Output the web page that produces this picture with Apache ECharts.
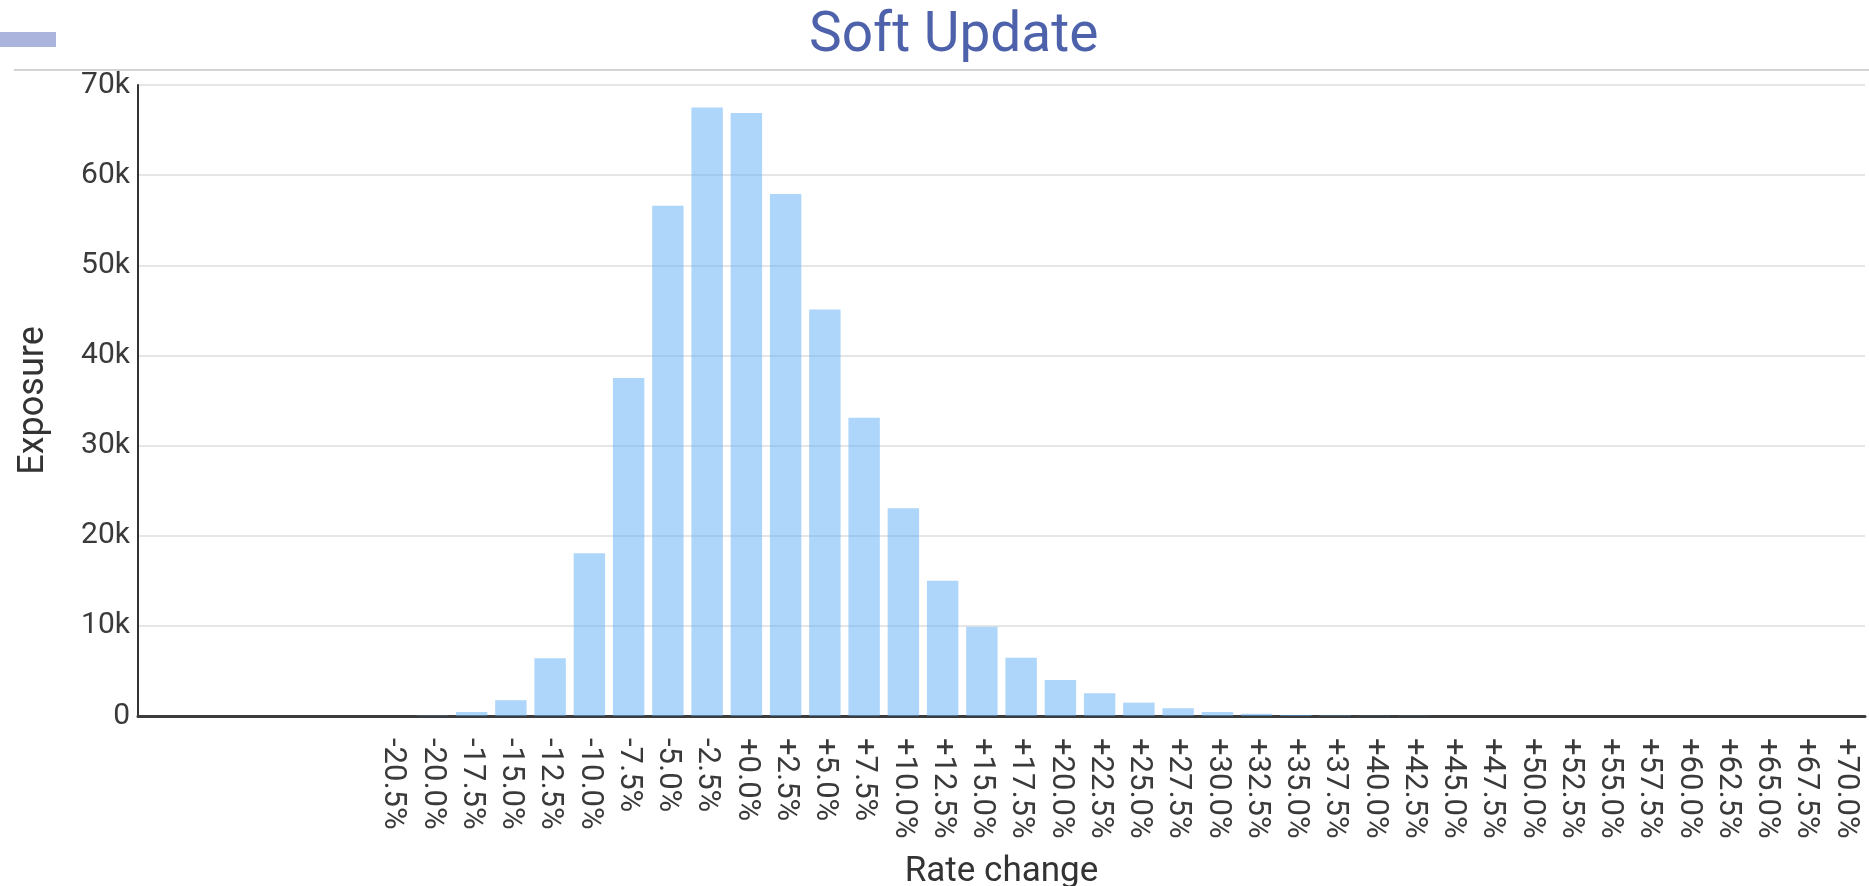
<!DOCTYPE html>
<html>
<head>
<meta charset="utf-8">
<title>Soft Update</title>
<script src="https://cdn.jsdelivr.net/npm/echarts@6/dist/echarts.min.js"></script>
<style>
html,body{margin:0;padding:0;background:#fff;}
#softUpdate{width:1869px;height:886px;}
</style>
</head>
<body>
<div id="softUpdate"></div>
<script>
// leading empty slots on the axis before the first bucket
var blankSlots = ['', '', '', '', '', ''];
var rateLabels = ['-20.5%', '-20.0%', '-17.5%', '-15.0%', '-12.5%', '-10.0%', '-7.5%', '-5.0%', '-2.5%',
    '+0.0%', '+2.5%', '+5.0%', '+7.5%', '+10.0%', '+12.5%', '+15.0%', '+17.5%', '+20.0%', '+22.5%',
    '+25.0%', '+27.5%', '+30.0%', '+32.5%', '+35.0%', '+37.5%', '+40.0%', '+42.5%', '+45.0%', '+47.5%',
    '+50.0%', '+52.5%', '+55.0%', '+57.5%', '+60.0%', '+62.5%', '+65.0%', '+67.5%', '+70.0%'];
var exposure = [0, 60, 450, 1750, 6420, 18050, 37500, 56600, 67500,
    66900, 57900, 45100, 33100, 23060, 15000, 9900, 6450, 4000, 2520,
    1480, 860, 450, 250, 120, 70, 30, 15, 0, 0,
    0, 0, 0, 0, 0, 0, 0, 0, 0];
var yTicks = [0, 10000, 20000, 30000, 40000, 50000, 60000, 70000];

var chartDom = document.getElementById('softUpdate');
var myChart = echarts.init(chartDom);
var option;

var xData = blankSlots.concat(rateLabels);
var yData = blankSlots.map(function () { return null; }).concat(exposure);

option = {
    animation: false,
    textStyle: { fontFamily: 'Roboto' },
    title: {
        text: 'Soft Update',
        left: 804,
        top: 5,
        textStyle: { fontSize: 55, fontWeight: 'normal', color: '#4d62ab', fontFamily: 'Roboto' }
    },
    graphic: [
        { type: 'rect', left: 0, top: 32, shape: { width: 56, height: 15 }, style: { fill: '#aab4dc' } },
        { type: 'line', shape: { x1: 14, y1: 70, x2: 1869, y2: 70 }, style: { stroke: '#c4c4c4', lineWidth: 1.5 } }
    ],
    grid: {
        left: 138,
        right: 4,
        top: 85,
        bottom: 170,
        outerBoundsMode: 'none'
    },
    xAxis: {
        type: 'category',
        data: xData,
        name: 'Rate change',
        nameLocation: 'middle',
        nameGap: 139,
        nameTextStyle: { fontSize: 35, color: '#333' },
        axisTick: { show: false },
        axisLine: { lineStyle: { color: '#3c3c3c', width: 3 } },
        axisLabel: {
            interval: 0,
            rotate: -90,
            margin: 22,
            fontSize: 31,
            color: '#3a3a3a'
        }
    },
    yAxis: {
        type: 'value',
        min: yTicks[0],
        max: yTicks[yTicks.length - 1],
        interval: yTicks[1] - yTicks[0],
        name: 'Exposure',
        nameLocation: 'middle',
        nameGap: 86,
        nameTextStyle: { fontSize: 36, color: '#333' },
        axisLine: { show: true, lineStyle: { color: '#333', width: 2 } },
        axisTick: { show: false },
        axisLabel: {
            margin: 8,
            fontSize: 30,
            color: '#3a3a3a',
            formatter: function (v) {
                return v === 0 ? '0' : (v / 1000) + 'k';
            }
        },
        splitLine: { lineStyle: { color: '#e6e6e6', width: 2 } }
    },
    series: [
        {
            type: 'bar',
            data: yData,
            barCategoryGap: '20%',
            itemStyle: { color: 'rgba(92, 173, 245, 0.5)' }
        }
    ]
};

option && myChart.setOption(option);
window.addEventListener('resize', function () {
    myChart.resize();
});
</script>
</body>
</html>
